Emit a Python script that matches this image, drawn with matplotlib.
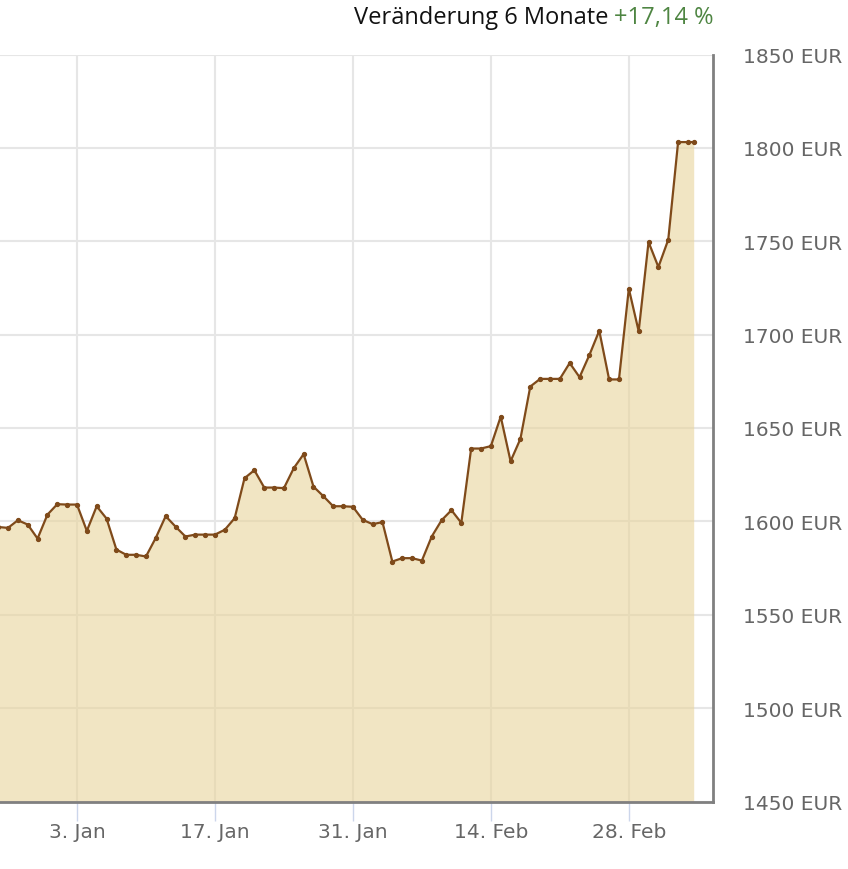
import numpy as np
import pandas as pd
import matplotlib
matplotlib.use("Agg")
import matplotlib.pyplot as plt
import matplotlib.dates as mdates
from matplotlib.ticker import FuncFormatter, FixedLocator

# daily prices (EUR), 26 Dec .. 6 Mar, plus the intraday point of 6 Mar
days = list(pd.date_range("2024-12-26", "2025-03-06", freq="D")) + [pd.Timestamp("2025-03-06 14:00")]
prices = [1597.0, 1596.5, 1600.6, 1598.3, 1590.8, 1603.6,
          1609.2, 1609.0, 1609.0, 1594.9, 1608.1, 1601.5, 1584.9, 1582.1, 1582.1, 1581.2,
          1591.2, 1602.8, 1597.2, 1591.9, 1592.9, 1592.9, 1592.9, 1595.5, 1601.7, 1623.1,
          1627.4, 1618.1, 1618.1, 1617.8, 1628.5, 1636.0, 1618.6, 1613.5, 1608.1, 1608.1,
          1607.8,
          1600.8, 1598.5, 1599.6, 1578.5, 1580.3, 1580.3, 1579.0, 1591.9, 1600.6, 1606.0,
          1599.2, 1639.0, 1639.0, 1640.3, 1656.1, 1632.2, 1644.2, 1672.2, 1676.3, 1676.3,
          1676.3, 1684.8, 1677.2, 1689.1, 1702.1, 1676.0, 1676.0, 1724.6,
          1701.8, 1749.6, 1736.2, 1750.8, 1803.1, 1803.1, 1803.1]

tick_days = pd.to_datetime(["2025-01-03", "2025-01-17", "2025-01-31", "2025-02-14", "2025-02-28"])
y_ticks = [1450, 1500, 1550, 1600, 1650, 1700, 1750, 1800, 1850]
title_txt = "Veränderung 6 Monate "
change_txt = "+17,14 %"

plt.rcParams['font.family'] = ['DejaVu Sans']

fig = plt.figure(figsize=(8.48, 8.70), dpi=100)
ax = fig.add_axes([0.0, 67.5/870, 713/848, 747/870])

x = mdates.date2num(days)
ax.fill_between(x, prices, 1450, color="#e9d49c", alpha=0.6, linewidth=0, zorder=2)
ax.plot(x, prices, color="#7f4a1a", lw=1.6, marker="o", ms=2.8, zorder=3)

ax.set_xlim(mdates.date2num(pd.Timestamp("2024-12-26 04:30")),
            mdates.date2num(pd.Timestamp("2025-03-08 13:00")))
ax.set_ylim(1450, 1850)

ax.xaxis.set_major_locator(FixedLocator(mdates.date2num(tick_days)))
ax.xaxis.set_major_formatter(FuncFormatter(
    lambda v, p: f"{mdates.num2date(v).day}. {mdates.num2date(v).strftime('%b')}"))
ax.yaxis.set_major_locator(FixedLocator(y_ticks))
ax.yaxis.set_major_formatter(FuncFormatter(lambda v, p: f"{int(v)} EUR"))

ax.yaxis.tick_right()
ax.tick_params(axis="y", length=0, pad=21.5, labelsize=14.5, labelcolor="#666666")
ax.tick_params(axis="x", length=14, width=1, color="#ccd6eb", pad=1,
               labelsize=14.5, labelcolor="#666666")

ax.grid(True, color="#e6e6e6", lw=1.5, zorder=1)
ax.set_axisbelow(True)

for s in ["top", "left"]:
    ax.spines[s].set_visible(False)
for s in ["right", "bottom"]:
    ax.spines[s].set_color("#808080")
    ax.spines[s].set_linewidth(2)

green = fig.text(714/848, 1 - 18/870, change_txt, ha="right", va="center",
                 fontsize=17, color="#4e8542", family="Open Sans")
ax.annotate(title_txt, xy=(0, 0.5), xycoords=green, ha="right", va="center",
            fontsize=17, color="#111111", family="Open Sans", annotation_clip=False)

fig.savefig("out.png", dpi=100)
